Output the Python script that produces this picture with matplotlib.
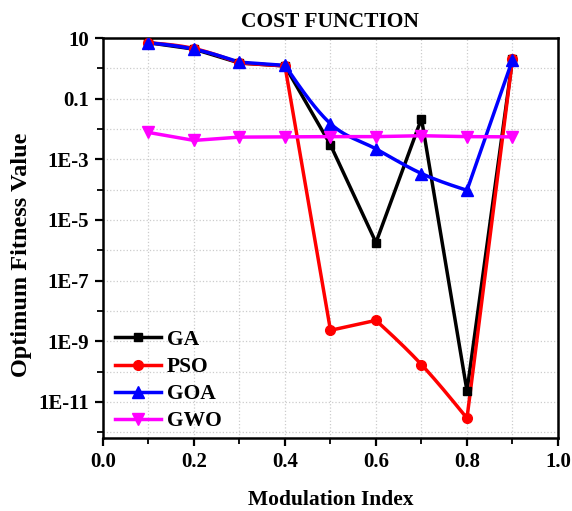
import numpy as np
import matplotlib.pyplot as plt
from matplotlib.ticker import FixedLocator, MultipleLocator, NullFormatter

plt.rcParams['font.family'] = 'Liberation Serif'
plt.rcParams['font.weight'] = 'bold'

# modulation index values
mi = [0.1, 0.2, 0.3, 0.4, 0.5, 0.6, 0.7, 0.8, 0.9]

# optimum fitness values
ga = [7.0, 4.3, 1.5, 1.2, 3.0e-3, 1.8e-6, 2.2e-2, 2.3e-11, 2.0]
pso = [7.0, 4.5, 1.5, 1.2, 2.3e-9, 4.9e-9, 1.7e-10, 2.9e-12, 2.0]
goa = [7.0, 4.3, 1.6, 1.25, 1.5e-2, 2.2e-3, 3.4e-4, 9.5e-5, 1.9]
gwo = [7.7e-3, 4.2e-3, 5.4e-3, 5.5e-3, 5.6e-3, 5.6e-3, 6.0e-3, 5.6e-3, 5.5e-3]

ytick_vals = [10, 0.1, 1e-3, 1e-5, 1e-7, 1e-9, 1e-11]
ytick_labels = ['10', '0.1', '1E-3', '1E-5', '1E-7', '1E-9', '1E-11']


def smooth(x, v, n=40):
    # cubic hermite in log space, corners kept at turning points / sharp bends
    x = np.asarray(x, float)
    y = np.log10(np.asarray(v, float))
    c = np.diff(y) / np.diff(x)
    npts = len(x)
    t = [None] * npts
    for i in range(1, npts - 1):
        a, b = c[i-1], c[i]
        corner = np.sign(a) != np.sign(b) or max(abs(a), abs(b)) > 4 * min(abs(a), abs(b))
        if not corner:
            t[i] = (y[i+1] - y[i-1]) / (x[i+1] - x[i-1])
    xs, ys = [], []
    for k in range(npts - 1):
        ta, tb = t[k], t[k+1]
        if ta is None and tb is None:
            ta = tb = c[k]
        elif ta is None:
            ta = (3*c[k] - tb) / 2
        elif tb is None:
            tb = (3*c[k] - ta) / 2
        h = x[k+1] - x[k]
        s = np.linspace(0, 1, n, endpoint=(k == npts - 2))
        h00 = 2*s**3 - 3*s**2 + 1
        h10 = s**3 - 2*s**2 + s
        h01 = -2*s**3 + 3*s**2
        h11 = s**3 - s**2
        xs.append(x[k] + s*h)
        ys.append(h00*y[k] + h10*h*ta + h01*y[k+1] + h11*h*tb)
    return np.concatenate(xs), 10**np.concatenate(ys)


fig = plt.figure(figsize=(5.72, 5.11), dpi=100)
ax = fig.add_axes([0.180, 0.143, 0.7955, 0.7826])

lw = 2.5
ax.plot(mi, ga, color='black', lw=lw, zorder=3)
ax.plot(*smooth(mi, pso), color='red', lw=lw, zorder=3)
ax.plot(*smooth(mi, goa), color='blue', lw=lw, zorder=4)
ax.plot(mi, gwo, color='magenta', lw=lw, zorder=4)

ax.plot(mi, ga, 's', color='black', ms=6, zorder=5)
ax.plot(mi, pso, 'o', color='red', ms=7, zorder=5)
ax.plot(mi, goa, '^', color='blue', ms=8, zorder=6)
ax.plot(mi, gwo, 'v', color='magenta', ms=8, zorder=6)

# legend proxies
ax.plot([], [], '-s', color='black', lw=lw, ms=6, label='GA')
ax.plot([], [], '-o', color='red', lw=lw, ms=7, label='PSO')
ax.plot([], [], '-^', color='blue', lw=lw, ms=8, label='GOA')
ax.plot([], [], '-v', color='magenta', lw=lw, ms=8, label='GWO')

ax.set_yscale('log')
ax.set_xlim(0, 1.0)
ax.set_ylim(6.5e-13, 10)

ax.set_xticks([0.0, 0.2, 0.4, 0.6, 0.8, 1.0])
ax.set_xticklabels(['0.0', '0.2', '0.4', '0.6', '0.8', '1.0'])
ax.xaxis.set_minor_locator(MultipleLocator(0.1))

ax.yaxis.set_major_locator(FixedLocator(ytick_vals))
ax.set_yticklabels(ytick_labels)
ax.yaxis.set_minor_locator(FixedLocator([1, 1e-2, 1e-4, 1e-6, 1e-8, 1e-10, 1e-12]))
ax.yaxis.set_minor_formatter(NullFormatter())

ax.tick_params(which='major', direction='out', length=6, width=1.6, labelsize=15, pad=4)
ax.tick_params(which='minor', direction='out', length=4, width=1.3)
ax.grid(True, which='both', color='#cccccc', ls=':', lw=0.9)
for s in ax.spines.values():
    s.set_linewidth(1.8)

ax.set_xlabel('Modulation Index', fontsize=15.5, fontweight='bold', labelpad=13)
ax.set_ylabel('Optimum Fitness Value', fontsize=17.5, fontweight='bold')
ax.yaxis.set_label_coords(-0.155, 0.4575)
ax.set_title('COST FUNCTION', fontsize=15.5, fontweight='bold', pad=8)

ax.legend(loc='lower left', bbox_to_anchor=(0.013, 0.0), frameon=False, fontsize=15.5,
          handlelength=2.1, labelspacing=0.33, borderaxespad=0.0, borderpad=0.3,
          handletextpad=0.3)

fig.savefig('out.png', dpi=100)
